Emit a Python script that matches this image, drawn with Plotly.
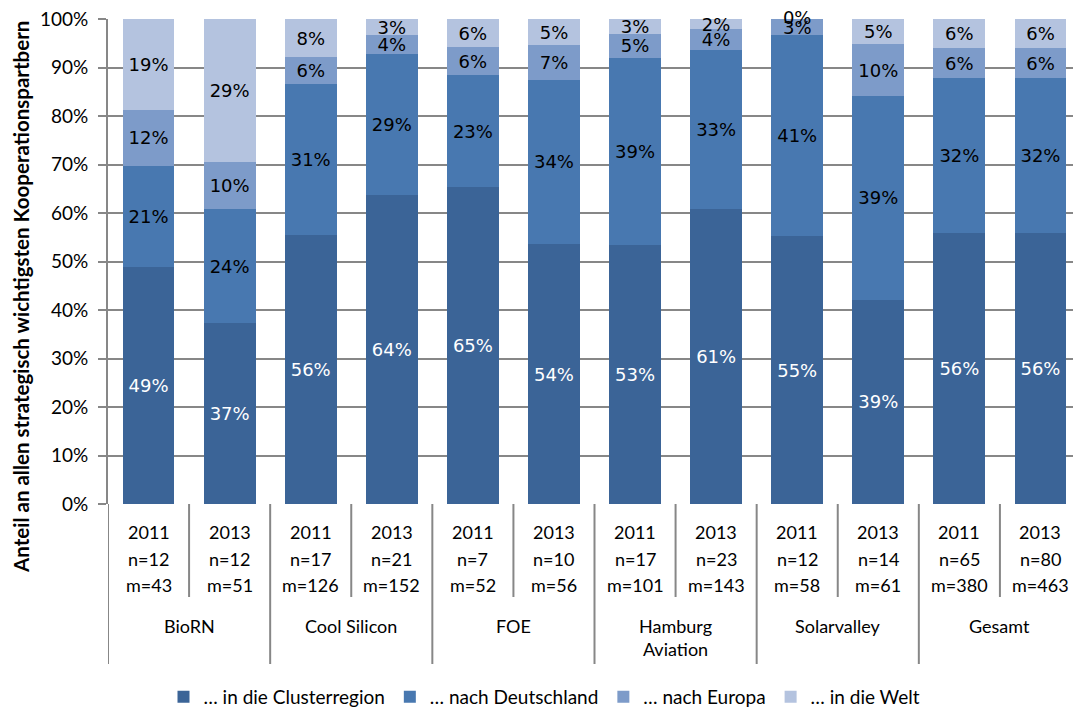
import plotly.graph_objects as go

# categories
clusters = ["BioRN", "Cool Silicon", "FOE", "Hamburg<br>Aviation", "Solarvalley", "Gesamt"]
years = ["2011", "2013"] * 6
n_labels = ["n=12", "n=12", "n=17", "n=21", "n=7", "n=10",
            "n=17", "n=23", "n=12", "n=14", "n=65", "n=80"]
m_labels = ["m=43", "m=51", "m=126", "m=152", "m=52", "m=56",
            "m=101", "m=143", "m=58", "m=61", "m=380", "m=463"]

# segment shares (%)
cluster_region = [48.8, 37.3, 55.5, 63.8, 65.3, 53.6, 53.4, 60.8, 55.2, 42.1, 55.8, 55.9]
deutschland = [20.9, 23.5, 31.0, 28.9, 23.1, 33.9, 38.6, 32.9, 41.4, 42.0, 32.1, 32.0]
europa = [11.6, 9.8, 5.6, 3.9, 5.8, 7.1, 5.0, 4.2, 3.35, 10.7, 6.05, 6.05]
welt = [18.6, 29.35, 7.85, 3.3, 5.75, 5.35, 2.95, 2.05, 0.0, 5.15, 6.0, 6.0]

# data labels as printed in the chart
cluster_text = ["49%", "37%", "56%", "64%", "65%", "54%", "53%", "61%", "55%", "39%", "56%", "56%"]
deutschland_text = ["21%", "24%", "31%", "29%", "23%", "34%", "39%", "33%", "41%", "39%", "32%", "32%"]
europa_text = ["12%", "10%", "6%", "4%", "6%", "7%", "5%", "4%", "3%", "10%", "6%", "6%"]
welt_text = ["19%", "29%", "8%", "3%", "6%", "5%", "3%", "2%", "0%", "5%", "6%", "6%"]

y_ticks = list(range(0, 101, 10))

series = [
    ("… in die Clusterregion", cluster_region, cluster_text, "#3B6497", "white"),
    ("… nach Deutschland", deutschland, deutschland_text, "#4878B0", "black"),
    ("… nach Europa", europa, europa_text, "#7D9BC9", "black"),
    ("… in die Welt", welt, welt_text, "#B4C3DF", "black"),
]

GRID = "#878787"
AXIS_FONT = "Lato, Carlito, Calibri, sans-serif"
LABEL_FONT = "DejaVu Sans, Verdana, sans-serif"

x = list(range(len(years)))
fig = go.Figure()
base = [0.0] * len(x)
zero_x, zero_y, zero_t, zero_c = [], [], [], []
for name, vals, txt, col, tcol in series:
    fig.add_trace(go.Bar(
        x=x, y=vals, name=name, marker=dict(color=col, line=dict(width=0)),
        text=txt, textposition="inside", insidetextanchor="middle", textangle=0,
        constraintext="none", cliponaxis=False,
        textfont=dict(family=LABEL_FONT, size=18, color=tcol),
        hoverinfo="skip",
    ))
    base = [b + v for b, v in zip(base, vals)]
    # empty segments get their label drawn at the stack position
    for i, v in enumerate(vals):
        if v == 0:
            zero_x.append(i); zero_y.append(base[i]); zero_t.append(txt[i]); zero_c.append(tcol)

fig.add_trace(go.Scatter(x=zero_x, y=zero_y, text=zero_t, mode="text", showlegend=False,
                         textposition="middle center", cliponaxis=False, hoverinfo="skip",
                         textfont=dict(family=LABEL_FONT, size=18, color=zero_c)))

ann = []
# three-line category labels under each bar
for r, row in enumerate([years, n_labels, m_labels]):
    for i, t in enumerate(row):
        ann.append(dict(x=i, y=0, xref="x", yref="paper", text=t, showarrow=False,
                        yanchor="middle", yshift=-28 - 26.5 * r,
                        font=dict(family=AXIS_FONT, size=18, color="black")))
# cluster names
for g, c in enumerate(clusters):
    ann.append(dict(x=2 * g + 0.5, y=0, xref="x", yref="paper", text=c, showarrow=False,
                    yanchor="top", yshift=-109,
                    font=dict(family=AXIS_FONT, size=18, color="black")))
# y axis title
ann.append(dict(x=0, y=0.427, xref="paper", yref="paper", xshift=-87, textangle=-90,
                text="<b>Anteil an allen strategisch wichtigsten Kooperationspartbern</b>",
                showarrow=False, xanchor="center", yanchor="middle",
                font=dict(family=AXIS_FONT, size=20.5, color="black")))

shapes = []
for k in range(len(years) + 1):
    xpos = k - 0.5
    group_edge = k % 2 == 0
    shapes.append(dict(type="line", xref="x", yref="paper", x0=xpos, x1=xpos,
                       y0=0, y1=-(160 if group_edge else 93) / 485,
                       line=dict(color=GRID, width=2)))

# page body has an 8px margin, so the figure is 8px smaller than the window
fig.update_layout(
    width=1073, height=703,
    margin=dict(l=100, r=0, t=11, b=207, autoexpand=False),
    paper_bgcolor="white", plot_bgcolor="white",
    barmode="stack", bargap=0.36,
    showlegend=True,
    legend=dict(orientation="h", xref="container", yref="container", x=0.5, y=0.02,
                xanchor="center", yanchor="middle", traceorder="normal",
                font=dict(family=AXIS_FONT, size=19, color="black"), itemwidth=30),
    xaxis=dict(range=[-0.5, len(years) - 0.5], showticklabels=False, showgrid=False,
               zeroline=False, showline=False, ticks=""),
    yaxis=dict(range=[0, 100], tickvals=y_ticks, ticktext=[f"{t}%" for t in y_ticks],
               showgrid=True, gridcolor=GRID, gridwidth=2, zeroline=False,
               showline=True, linecolor=GRID, linewidth=2, ticks="outside", ticklen=8,
               tickcolor=GRID, tickwidth=2, ticklabelstandoff=6, ticklabeloverflow="allow",
               tickfont=dict(family=AXIS_FONT, size=19, color="black")),
    annotations=ann, shapes=shapes,
)

fig.write_html("out.html")
